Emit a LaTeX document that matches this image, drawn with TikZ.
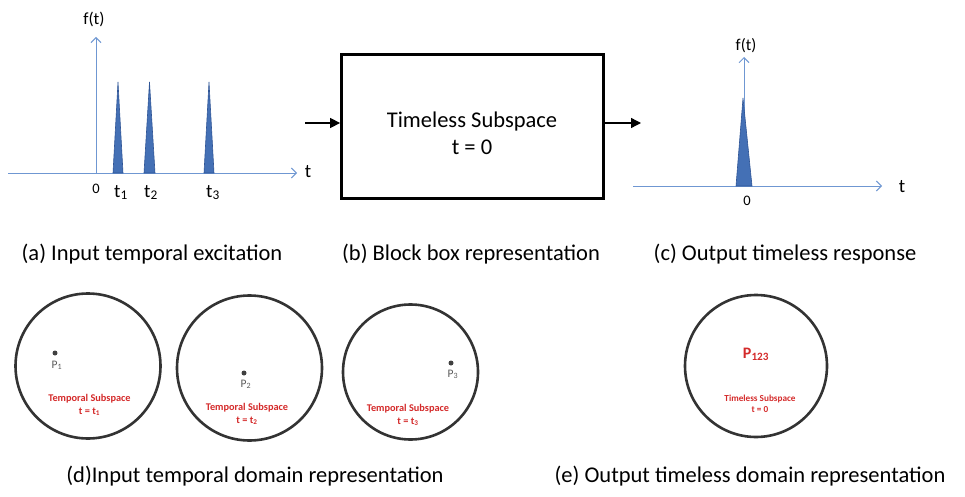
\documentclass[tikz,border=0pt]{standalone}
\usepackage{fontspec}
\setmainfont{Carlito}
\usetikzlibrary{arrows.meta}
\definecolor{axisblue}{HTML}{6F97D2}
\definecolor{spikeblue}{HTML}{4470B5}
\definecolor{spikeedge}{HTML}{2F5596}
\definecolor{redtxt}{HTML}{D42A2A}
\tikzset{
  axis/.style={axisblue, line width=1pt, -{Straight Barb[length=5pt,width=10pt]}},
  spike/.style={fill=spikeblue, draw=spikeedge, line width=0.6pt},
  lbl/.style={inner sep=0pt, anchor=base},
  caption/.style={font=\fontsize{22.5}{24}\selectfont, inner sep=0pt, anchor=base},
  flow/.style={line width=1.3pt, -{Triangle[length=10pt,width=10pt]}},
  blk/.style={draw, line width=2.8pt, minimum width=262pt, minimum height=144pt},
  ring/.style={draw=black!80, line width=2.6pt, circle, inner sep=0pt},
  red lbl/.style={text=redtxt, font=\bfseries\fontsize{10.3}{12}\selectfont, inner sep=0pt, anchor=base},
  pt/.style={circle, fill=black!75, inner sep=0pt, minimum size=5pt},
  plbl/.style={text=black!65, font=\fontsize{11.5}{12}\selectfont, inner sep=0pt, anchor=base}
}
\begin{document}
\begin{tikzpicture}[x=1pt,y=-1pt]
\useasboundingbox (0,0) rectangle (965,497);
% ---------- (a) ----------
\coordinate (ax0) at (8,173);
\coordinate (ax1) at (297,173);
\coordinate (ay0) at (96,173);
\coordinate (ay1) at (96,37);
\draw[axis] (ax0) -- (ax1);
\draw[axis] (ay0) -- (ay1);
\node[lbl, font=\fontsize{19}{20}\selectfont] (ta) at (308,178) {t};
\node[lbl, font=\fontsize{17}{18}\selectfont] (fa) at (94,25) {f(t)};
\draw[spike] (113,173) -- (118,82) -- (123,173) -- cycle;
\draw[spike] (144,173) -- (149.5,82) -- (155,173) -- cycle;
\draw[spike] (204,173) -- (209,82) -- (214,173) -- cycle;
\node[lbl, font=\fontsize{14.5}{15}\selectfont] (za) at (96,193) {0};
\node[lbl, font=\fontsize{19}{20}\selectfont] (t1) at (121,197) {t\textsubscript{1}};
\node[lbl, font=\fontsize{19}{20}\selectfont] (t2) at (151,197) {t\textsubscript{2}};
\node[lbl, font=\fontsize{19}{20}\selectfont] (t3) at (213,197) {t\textsubscript{3}};
% ---------- (b) ----------
\node[blk] (box) at (472.5,126.5) {};
\node[lbl, font=\fontsize{22.5}{24}\selectfont] (bt1) at (472,128) {Timeless Subspace};
\node[lbl, font=\fontsize{22.5}{24}\selectfont] (bt2) at (472,155) {t = 0};
\coordinate (inA) at (305,123);
\coordinate (outB) at (641,123);
\draw[flow] (inA) -- (inA -| box.west);
\draw[flow] (outB -| box.east) -- (outB);
% ---------- (c) ----------
\draw[axis] (633,186) -- (882,186);
\draw[axis] (744,186) -- (744,57);
\node[lbl, font=\fontsize{19}{20}\selectfont] (tc) at (902,192) {t};
\node[lbl, font=\fontsize{16.5}{17}\selectfont] (fc) at (746,51) {f(t)};
\draw[spike] (736,186) -- (743,98) -- (752,186) -- cycle;
\node[lbl, font=\fontsize{14.5}{15}\selectfont] (zc) at (747,205) {0};
% ---------- captions ----------
\node[caption] (ca) at (152,260) {(a) Input temporal excitation};
\node[caption] (cb) at (471,260) {(b) Block box representation};
\node[caption] (cc) at (785,260) {(c) Output timeless response};
\node[caption] (cd) at (255,482) {(d)Input temporal domain representation};
\node[caption] (ce) at (750,482) {(e) Output timeless domain representation};
% ---------- (d) ----------
\node[ring, minimum size=145pt] (c1) at (88,366) {};
\node[pt] (p1) at (55,353) {};
\node[plbl] (l1) at (57,368) {P\textsubscript{1}};
\node[red lbl] (r1a) at (89.5,401) {Temporal Subspace};
\node[red lbl] (r1b) at (89.5,414) {t = t\textsubscript{1}};
\node[ring, minimum size=145pt] (c2) at (249.5,368) {};
\node[pt] (p2) at (244,373) {};
\node[plbl] (l2) at (246,387) {P\textsubscript{2}};
\node[red lbl] (r2a) at (247,410) {Temporal Subspace};
\node[red lbl] (r2b) at (247,423) {t = t\textsubscript{2}};
\node[ring, minimum size=135pt] (c3) at (410.5,372) {};
\node[pt] (p3) at (451,363) {};
\node[plbl] (l3) at (453,377) {P\textsubscript{3}};
\node[red lbl] (r3a) at (408,411) {Temporal Subspace};
\node[red lbl] (r3b) at (408,424) {t = t\textsubscript{3}};
% ---------- (e) ----------
\node[ring, minimum size=142pt] (ce1) at (756,366) {};
\node[lbl, text=redtxt, font=\bfseries\fontsize{16}{17}\selectfont] (p123) at (756,358) {P\textsubscript{123}};
\node[red lbl, font=\bfseries\fontsize{9.2}{10}\selectfont] (rea) at (760,401) {Timeless Subspace};
\node[red lbl, font=\bfseries\fontsize{9.2}{10}\selectfont] (reb) at (760,412) {t = 0};
\end{tikzpicture}
\end{document}
